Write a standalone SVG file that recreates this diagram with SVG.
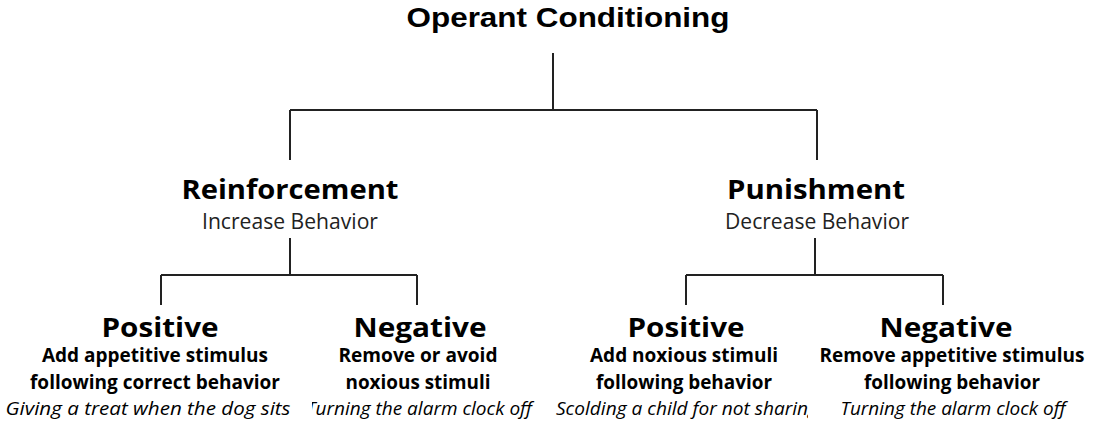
<svg xmlns="http://www.w3.org/2000/svg" width="1106" height="440" viewBox="0 0 1106 440">
<style>
text{font-family:"Open Sans","Liberation Sans",sans-serif;fill:#000;text-anchor:middle}
.h1{font-family:"Liberation Sans","Open Sans",sans-serif;font-size:28px;font-weight:bold}
.h2{font-size:26px;font-weight:bold}
.sub{font-size:22px;fill:#222}
.d{font-size:19px;font-weight:bold}
.e{font-size:18px;font-style:italic}
.c{stroke:#222;stroke-width:2;fill:none}
</style>
<defs>
<clipPath id="clipL"><rect x="312" y="395" width="230" height="30"/></clipPath>
<clipPath id="clipR"><rect x="540" y="395" width="268" height="30"/></clipPath>
</defs>
<rect width="1106" height="440" fill="#fff"/>
<g id="connectors">
<path class="c" d="M553 53V110M290 110H817M290 110V160M817 110V160"/>
<path class="c" d="M290 238V275M161 275H417M161 275V305M417 275V305"/>
<path class="c" d="M815 238V275M686 275H943M686 275V305M943 275V305"/>
</g>
<g id="root"><text class="h1" x="568" y="27" textLength="323" lengthAdjust="spacingAndGlyphs">Operant Conditioning</text></g>
<g id="reinforcement">
<text class="h2" x="290" y="199" textLength="217" lengthAdjust="spacingAndGlyphs">Reinforcement</text>
<text class="sub" x="290" y="229" textLength="176" lengthAdjust="spacingAndGlyphs">Increase Behavior</text>
</g>
<g id="punishment">
<text class="h2" x="816" y="199" textLength="178" lengthAdjust="spacingAndGlyphs">Punishment</text>
<text class="sub" x="817" y="229" textLength="184" lengthAdjust="spacingAndGlyphs">Decrease Behavior</text>
</g>
<g id="pos-reinforcement">
<text class="h2" x="160" y="337" textLength="117" lengthAdjust="spacingAndGlyphs">Positive</text>
<text class="d" x="155" y="362" textLength="226" lengthAdjust="spacingAndGlyphs">Add appetitive stimulus</text>
<text class="d" x="155" y="389" textLength="250" lengthAdjust="spacingAndGlyphs">following correct behavior</text>
<text class="e" x="148" y="415" textLength="285" lengthAdjust="spacingAndGlyphs">Giving a treat when the dog sits</text>
</g>
<g id="neg-reinforcement">
<text class="h2" x="420" y="337" textLength="133" lengthAdjust="spacingAndGlyphs">Negative</text>
<text class="d" x="418" y="362" textLength="159" lengthAdjust="spacingAndGlyphs">Remove or avoid</text>
<text class="d" x="418" y="389" textLength="145" lengthAdjust="spacingAndGlyphs">noxious stimuli</text>
<text class="e" x="419" y="415" textLength="226" lengthAdjust="spacingAndGlyphs" clip-path="url(#clipL)">Turning the alarm clock off</text>
</g>
<g id="pos-punishment">
<text class="h2" x="686" y="337" textLength="117" lengthAdjust="spacingAndGlyphs">Positive</text>
<text class="d" x="684" y="362" textLength="188" lengthAdjust="spacingAndGlyphs">Add noxious stimuli</text>
<text class="d" x="684" y="389" textLength="176" lengthAdjust="spacingAndGlyphs">following behavior</text>
<text class="e" x="687" y="415" textLength="262" lengthAdjust="spacingAndGlyphs" clip-path="url(#clipR)">Scolding a child for not sharing</text>
</g>
<g id="neg-punishment">
<text class="h2" x="946" y="337" textLength="133" lengthAdjust="spacingAndGlyphs">Negative</text>
<text class="d" x="952" y="362" textLength="265" lengthAdjust="spacingAndGlyphs">Remove appetitive stimulus</text>
<text class="d" x="952" y="389" textLength="176" lengthAdjust="spacingAndGlyphs">following behavior</text>
<text class="e" x="953" y="415" textLength="225" lengthAdjust="spacingAndGlyphs">Turning the alarm clock off</text>
</g>
</svg>
